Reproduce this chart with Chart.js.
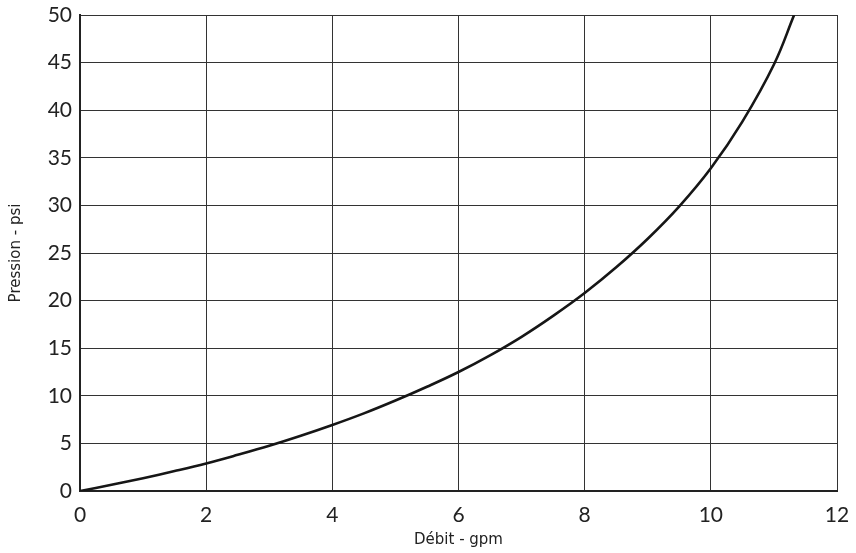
<!DOCTYPE html>
<html>
<head>
<meta charset="utf-8">
<script src="https://cdn.jsdelivr.net/npm/chart.js@4"></script>
<style>
  html, body { margin: 0; padding: 0; background: #fff; }
  #wrap { width: 856px; height: 553px; }
</style>
</head>
<body>
<div id="wrap"><canvas id="myChart" width="856" height="553"></canvas></div>
<script>
// flow (gpm)
const debit = [0, 0.5, 1, 1.5, 2, 2.5, 3, 3.5, 4, 4.5, 5, 5.5, 6, 6.5, 7, 7.5, 8, 8.5, 9, 9.5, 10, 10.5, 11, 11.32];
// pressure (psi)
const pression = [0, 0.65, 1.35, 2.1, 2.9, 3.8, 4.75, 5.8, 6.93, 8.15, 9.5, 10.95, 12.5, 14.25, 16.2, 18.4, 20.8, 23.5, 26.5, 29.9, 33.9, 38.8, 44.8, 50];

const xTitle = 'Débit - gpm';
const yTitle = 'Pression - psi';

const font = { family: 'Lato, "DejaVu Sans", sans-serif', size: 21 };
const titleFont = { family: '"DejaVu Sans", sans-serif', size: 15 };

const ctx = document.getElementById('myChart');
new Chart(ctx, {
  type: 'line',
  data: {
    datasets: [{
      data: debit.map((x, i) => ({ x: x, y: pression[i] })),
      borderColor: '#161616',
      borderWidth: 2.6,
      pointRadius: 0,
      tension: 0.4,
      fill: false
    }]
  },
  options: {
    responsive: false,
    animation: false,
    layout: { padding: { left: 0, right: 19, top: 15, bottom: 0 } },
    plugins: { legend: { display: false }, tooltip: { enabled: false } },
    scales: {
      x: {
        type: 'linear',
        min: 0, max: 12,
        afterFit: s => { s.height = 62; s.paddingLeft = 0; s.paddingRight = 0; },
        ticks: { stepSize: 2, color: '#222', font: font, padding: 12, maxRotation: 0 },
        grid: { color: '#333', lineWidth: 1, drawTicks: false },
        border: { color: '#222', width: 2 },
        title: { display: true, text: xTitle, color: '#222', font: titleFont, padding: { top: 0, bottom: 4 } }
      },
      y: {
        min: 0, max: 50,
        afterFit: s => { s.width = 80; s.paddingTop = 0; s.paddingBottom = 0; },
        ticks: { stepSize: 5, color: '#222', font: font, padding: 8 },
        grid: { color: '#333', lineWidth: 1, drawTicks: false },
        border: { color: '#222', width: 2 },
        title: { display: true, text: yTitle, color: '#222', font: titleFont, padding: { top: 7, bottom: 0 } }
      }
    }
  }
});
</script>
</body>
</html>
